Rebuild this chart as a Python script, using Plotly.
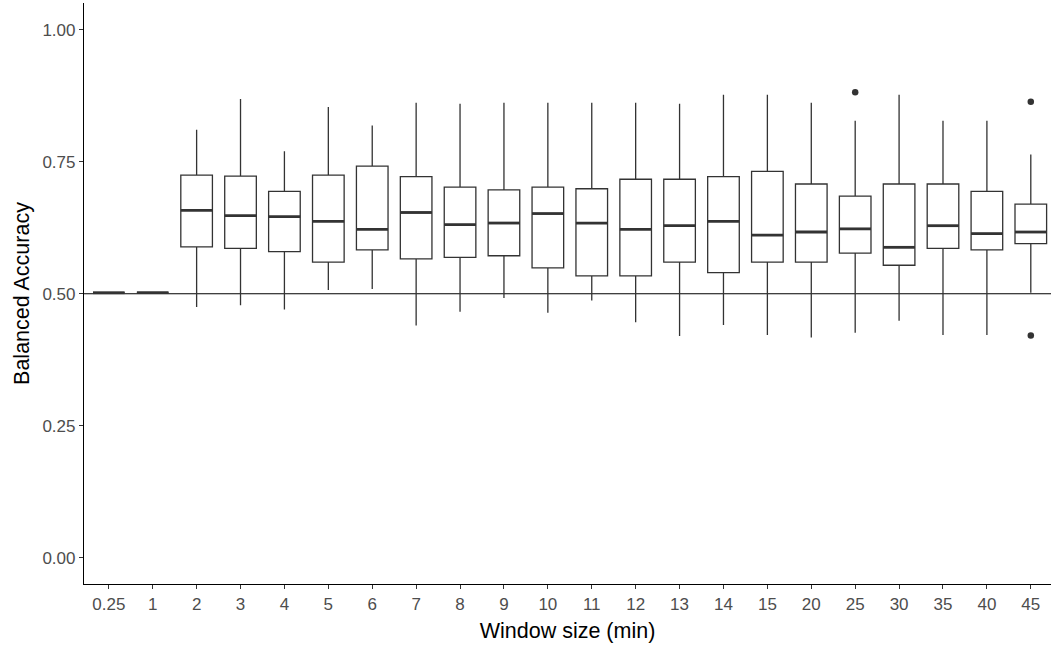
import plotly.graph_objects as go

categories = ["0.25", "1", "2", "3", "4", "5", "6", "7", "8", "9", "10", "11",
              "12", "13", "14", "15", "20", "25", "30", "35", "40", "45"]
upper_whisker = [0.502, 0.502, 0.811, 0.869, 0.770, 0.854, 0.819, 0.862, 0.860, 0.862, 0.862,
                 0.862, 0.862, 0.860, 0.877, 0.877, 0.862, 0.828, 0.877, 0.828, 0.828, 0.764]
q3 = [0.502, 0.502, 0.725, 0.723, 0.694, 0.725, 0.742, 0.722, 0.702, 0.697, 0.702,
      0.699, 0.717, 0.717, 0.722, 0.732, 0.708, 0.685, 0.708, 0.708, 0.694, 0.670]
median = [0.502, 0.502, 0.658, 0.648, 0.646, 0.637, 0.622, 0.654, 0.631, 0.634, 0.652,
          0.634, 0.622, 0.629, 0.637, 0.611, 0.617, 0.623, 0.588, 0.629, 0.614, 0.617]
q1 = [0.502, 0.502, 0.589, 0.586, 0.580, 0.560, 0.583, 0.566, 0.569, 0.572, 0.549,
      0.534, 0.534, 0.560, 0.540, 0.560, 0.560, 0.577, 0.554, 0.586, 0.583, 0.595]
lower_whisker = [0.502, 0.502, 0.475, 0.478, 0.470, 0.507, 0.509, 0.440, 0.466, 0.492, 0.464,
                 0.487, 0.446, 0.420, 0.441, 0.422, 0.417, 0.426, 0.449, 0.422, 0.422, 0.502]
outlier_x = ["25", "45", "45"]
outlier_y = [0.882, 0.864, 0.421]

box_width = 0.72
line_col = "#333333"

fig = go.Figure()
fig.add_trace(go.Box(
    x=categories, q1=q1, median=median, q3=q3,
    lowerfence=lower_whisker, upperfence=upper_whisker,
    boxpoints=False, whiskerwidth=0, width=box_width,
    fillcolor="white", line=dict(color=line_col, width=1.3),
    showlegend=False, hoverinfo="skip",
))
fig.add_trace(go.Scatter(
    x=outlier_x, y=outlier_y, mode="markers",
    marker=dict(color=line_col, size=6.5), showlegend=False,
))

shapes = [dict(type="line", xref="paper", x0=0, x1=1, yref="y", y0=0.5, y1=0.5,
               line=dict(color="black", width=1.2), layer="below")]
for i, m in enumerate(median):
    shapes.append(dict(type="line", xref="x", yref="y",
                       x0=i - box_width / 2, x1=i + box_width / 2,
                       y0=m, y1=m, line=dict(color=line_col, width=2.8)))

fig.update_layout(
    width=1051, height=650,
    margin=dict(l=84, r=0, t=3, b=66),
    paper_bgcolor="white", plot_bgcolor="white",
    shapes=shapes,
    font=dict(family="Liberation Sans, Arial, sans-serif"),
    xaxis=dict(
        type="category", categoryorder="array", categoryarray=categories,
        range=[-0.565, 21.46], automargin=False,
        showline=True, linecolor="black", linewidth=1.2,
        ticks="outside", ticklen=4, tickcolor="#333333", tickwidth=1,
        tickfont=dict(size=17, color="#4d4d4d"),
        showgrid=False, zeroline=False,
        title=dict(text="Window size (min)", font=dict(size=21.5, color="black"), standoff=10),
    ),
    yaxis=dict(
        range=[-0.05, 1.051], automargin=False,
        tickvals=[0, 0.25, 0.5, 0.75, 1.0],
        ticktext=["0.00", "0.25", "0.50", "0.75", "1.00"],
        showline=True, linecolor="black", linewidth=1.2,
        ticks="outside", ticklen=4, tickcolor="#333333", tickwidth=1,
        tickfont=dict(size=17, color="#4d4d4d"),
        showgrid=False, zeroline=False,
        title=dict(text="Balanced Accuracy", font=dict(size=21.5, color="black"), standoff=6),
    ),
)

fig.write_html("out.html")
